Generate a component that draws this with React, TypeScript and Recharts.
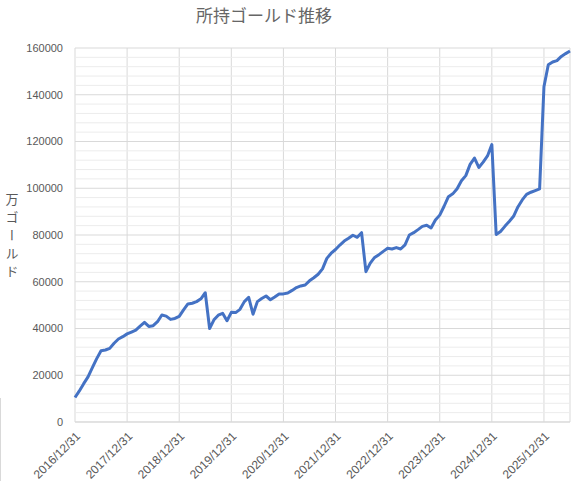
import React from "react";
import { LineChart, Line, XAxis, YAxis, CartesianGrid, ReferenceLine, Customized } from "recharts";

// Monthly gold holdings, 2016/12 .. 2026/06 (one value per month)
const gold = [
  10500, 13300, 16400, 19300, 23300, 27100, 30500, 30800, 31500, 33700, 35500, 36500,
  37700, 38500, 39300, 41000, 42600, 40900, 41200, 42900, 45800, 45300, 43900, 44300,
  45200, 48000, 50500, 50800, 51500, 52700, 55300, 40000, 43700, 45700, 46500, 43300,
  46900, 46800, 48200, 51500, 53300, 46100, 51500, 52800, 53900, 52300, 53500, 54800,
  54800, 55200, 56300, 57500, 58200, 58600, 60400, 61700, 63200, 65500, 70000, 72200,
  73800, 75700, 77400, 78600, 79900, 79000, 81000, 64300, 68000, 70400, 71600, 73000,
  74300, 74000, 74600, 74000, 75800, 80000, 81000, 82300, 83700, 84200, 83000, 86400,
  88500, 92300, 96400, 97600, 99800, 103200, 105400, 110200, 112900, 108900, 111200, 113800,
  118700, 80200, 81500, 83700, 85800, 88000, 92000, 95000, 97400, 98300, 99000, 99700,
  143400, 152800, 154000, 154600, 156400, 157600, 158700,
];

const yearTicks = [0, 12, 24, 36, 48, 60, 72, 84, 96, 108];
const yearLabels = [
  "2016/12/31", "2017/12/31", "2018/12/31", "2019/12/31", "2020/12/31",
  "2021/12/31", "2022/12/31", "2023/12/31", "2024/12/31", "2025/12/31",
];
const yMajor = [0, 20000, 40000, 60000, 80000, 100000, 120000, 140000, 160000];
const yMinor = [
  4000, 8000, 12000, 16000, 24000, 28000, 32000, 36000, 44000, 48000, 52000, 56000,
  64000, 68000, 72000, 76000, 84000, 88000, 92000, 96000, 104000, 108000, 112000, 116000,
  124000, 128000, 132000, 136000, 144000, 148000, 152000, 156000,
];

const title = "所持ゴールド推移";
const yTitle = "万ゴールド";

const data = gold.map((v, i) => ({ m: i, v }));

const TEXT = "#595959";
const FONT = "'Liberation Sans', Arial, sans-serif";

const XTick = (props: any) => {
  const { x, y, payload } = props;
  const idx = yearTicks.indexOf(payload.value);
  const label = idx >= 0 ? yearLabels[idx] : "";
  const tx = x + 6;
  const ty = y + 7;
  return (
    <text
      x={tx}
      y={ty}
      textAnchor="end"
      transform={`rotate(-45, ${tx}, ${ty})`}
      fontSize={12}
      fontFamily={FONT}
      fill={TEXT}
    >
      {label}
    </text>
  );
};

const Titles = () => (
  <g>
    <text
      x={264}
      y={22}
      textAnchor="middle"
      fontSize={17}
      fontFamily="'Noto Sans CJK JP', sans-serif"
      fill="#666666"
    >
      {title}
    </text>
    <text
      x={12}
      y={193}
      fontSize={13}
      fontFamily="'Noto Sans CJK JP', sans-serif"
      fill={TEXT}
      style={{ writingMode: "vertical-rl", letterSpacing: "5px" } as any}
    >
      {yTitle}
    </text>
  </g>
);

export default function App() {
  return (
    <div style={{ position: "absolute", left: 0, top: 0, width: 574, height: 481, background: "#fff" }}>
      <div style={{ position: "absolute", left: 0, top: 398, width: 1, height: 83, background: "#d9d9d9" }} />
      <LineChart
        width={574}
        height={481}
        data={data}
        margin={{ top: 48, right: 4, left: 0, bottom: 0 }}
      >
        {yMinor.map((v) => (
          <ReferenceLine key={v} y={v} stroke="#ececec" strokeWidth={1} />
        ))}
        <CartesianGrid stroke="#d9d9d9" />
        <XAxis
          type="number"
          dataKey="m"
          domain={[0, 114]}
          ticks={yearTicks}
          interval={0}
          height={59}
          axisLine={{ stroke: "#d9d9d9" }}
          tickLine={false}
          tick={<XTick />}
        />
        <YAxis
          domain={[0, 160000]}
          ticks={yMajor}
          interval={0}
          width={75}
          axisLine={false}
          tickLine={false}
          tickSize={0}
          tickMargin={12}
          tick={{ fontSize: 11, fill: TEXT, fontFamily: FONT }}
        />
        <Line
          type="linear"
          dataKey="v"
          stroke="#4472c4"
          strokeWidth={3}
          strokeLinejoin="round"
          dot={false}
          isAnimationActive={false}
        />
        <Customized component={Titles} />
      </LineChart>
    </div>
  );
}
